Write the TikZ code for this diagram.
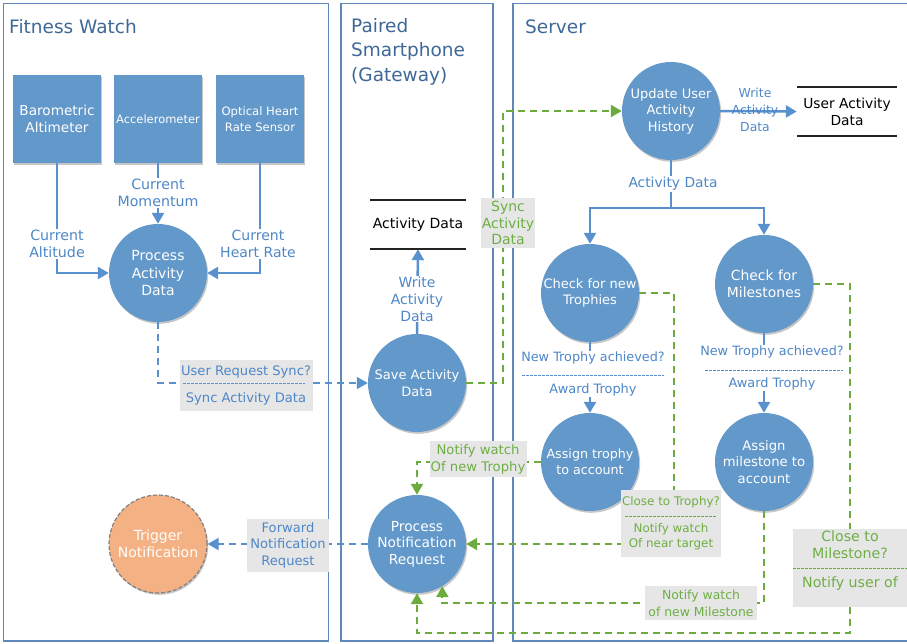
\documentclass[tikz,border=0pt]{standalone}
\usepackage{fontspec}
\setmainfont{DejaVu Sans}
\usetikzlibrary{arrows.meta,shadows,calc}

\definecolor{lane}{RGB}{95,135,185}
\definecolor{ttl}{RGB}{62,104,150}
\definecolor{cfill}{RGB}{98,152,202}
\definecolor{bl}{RGB}{88,145,205}
\definecolor{bltext}{RGB}{78,135,200}
\definecolor{gr}{RGB}{108,172,62}
\definecolor{grtext}{RGB}{110,175,68}
\definecolor{gbox}{RGB}{230,230,230}
\definecolor{orng}{RGB}{244,177,131}
\definecolor{storeline}{RGB}{35,35,35}

\tikzset{
  shd/.style={drop shadow={shadow xshift=1.2pt, shadow yshift=-1.8pt, opacity=0.22, fill=black}},
  proc/.style={circle, fill=cfill, minimum size=98pt, inner sep=0pt, text=white,
    align=center, font=\fontsize{13}{16.5}\selectfont, shd},
  sensor/.style={rectangle, fill=cfill, minimum width=88pt, minimum height=88pt,
    inner sep=1pt, text=white, align=center, shd},
  lanebox/.style={draw=lane, line width=1.2pt},
  ttlfont/.style={text=ttl, font=\fontsize{18.5}{24.5}\selectfont, align=left, inner sep=0pt},
  tip/.style={-{Triangle[length=11pt,width=12pt]}},
  blline/.style={draw=bl, line width=2.5pt},
  blarrow/.style={blline, tip},
  bldash/.style={draw=bl, line width=1.8pt, dash pattern=on 7pt off 5pt, tip},
  grdash/.style={draw=gr, line width=2.2pt, dash pattern=on 7pt off 5pt, tip},
  blsep/.style={draw=bl, line width=0.8pt, dash pattern=on 2.5pt off 1.5pt},
  grsep/.style={draw=gr, line width=0.8pt, dash pattern=on 2.5pt off 1.5pt},
  bllbl/.style={text=bltext, align=center, font=\fontsize{14}{16.8}\selectfont, fill=white, inner sep=1pt},
  blbox/.style={fill=gbox, text=bltext, align=center, font=\fontsize{13.1}{16.5}\selectfont, inner sep=1pt},
  grbox/.style={fill=gbox, text=grtext, align=center, font=\fontsize{13.2}{17}\selectfont, inner sep=1pt},
  store/.style={minimum height=49pt, inner sep=0pt, align=center, text=black},
  storeedge/.style={draw=storeline, line width=1.6pt},
}

\begin{document}
\begin{tikzpicture}[x=1pt,y=-1pt]
\useasboundingbox (0,0) rectangle (907,643);

% swim lanes
\draw[lanebox] (3.5,3.5) rectangle (328.5,641);
\draw[lanebox] (341,3.5) rectangle (493,641);
\draw[lanebox] (907,3.5) -- (513,3.5) -- (513,641) -- (907,641);

\node[ttlfont, anchor=base west] (tw) at (9,33) {Fitness Watch};
\node[ttlfont, anchor=north west] (tp) at (351,18) {Paired\\Smartphone\\(Gateway)};
\node[ttlfont, anchor=base west] (ts) at (525,33) {Server};

% sensors
\node[sensor, font=\fontsize{13.6}{17}\selectfont] (baro) at (57,119) {Barometric\\Altimeter};
\node[sensor, font=\fontsize{11.5}{13}\selectfont] (acc) at (158,119) {Accelerometer};
\node[sensor, font=\fontsize{11.6}{16}\selectfont] (ohr) at (260,119) {Optical Heart\\Rate Sensor};

% processes
\node[proc, font=\fontsize{14}{17.5}\selectfont] (pad) at (158,273) {Process\\Activity\\Data};
\node[proc] (save) at (417,383) {Save Activity\\Data};
\node[proc, font=\fontsize{13.8}{16.5}\selectfont] (pnr) at (417,544) {Process\\Notification\\Request};
\node[proc, fill=orng, draw=black!50, line width=1.2pt, dash pattern=on 4pt off 2pt,
      font=\fontsize{14}{16.5}\selectfont] (trig) at (158,544) {Trigger\\Notification};
\node[proc] (update) at (671,111) {Update User\\Activity\\History};
\node[proc] (trophy) at (590,293) {Check for new\\Trophies};
\node[proc, font=\fontsize{13.9}{17}\selectfont] (mile) at (764,284) {Check for\\Milestones};
\node[proc, font=\fontsize{12.7}{16.5}\selectfont] (assignT) at (590,462) {Assign trophy\\to account};
\node[proc, font=\fontsize{13.2}{16.5}\selectfont] (assignM) at (764,462) {Assign\\milestone to\\account};

% data stores
\node[store, minimum width=96pt, font=\fontsize{14}{17}\selectfont] (ads) at (418,224.5) {Activity Data};
\draw[storeedge] (ads.north west) -- (ads.north east);
\draw[storeedge] (ads.south west) -- (ads.south east);
\node[store, minimum width=100pt, font=\fontsize{13.8}{17}\selectfont] (uad) at (847,111.5) {User Activity\\Data};
\draw[storeedge] (uad.north west) -- (uad.north east);
\draw[storeedge] (uad.south west) -- (uad.south east);

% watch connectors
\draw[blarrow] (baro.south) |- (pad.west);
\draw[blarrow] (acc.south) -- (pad.north);
\draw[blarrow] (ohr.south) |- (pad.east);
\node[bllbl, font=\fontsize{14.2}{16.8}\selectfont] (l1) at (57,244) {Current\\Altitude};
\node[bllbl, font=\fontsize{14.2}{16.8}\selectfont] (l2) at (158,193) {Current\\Momentum};
\node[bllbl] (l3) at (258,244) {Current\\Heart Rate};

% sync request
\draw[bldash] (pad.south) |- (save.west);
\node[blbox, minimum width=133pt, minimum height=51pt, font=\fontsize{13.1}{15}\selectfont] (urs) at (246,385) {User Request Sync?\\[12pt]Sync Activity Data};
\draw[blsep] (183,383) -- (305,383);

% write activity data (phone)
\draw[blarrow] (save.north) -- (ads.south);
\node[bllbl] (l4) at (417,299) {Write\\Activity\\Data};

% sync to server
\draw[grdash] (save.east) -- ++(37,0) |- (update.west);
\node[grbox, minimum width=54pt, minimum height=50pt, inner sep=0.5pt, font=\fontsize{14}{16.5}\selectfont] (sad) at (508,223) {Sync\\Activity\\Data};

% write user activity data
\draw[blarrow] (update.east) -- (uad.west);
\node[bllbl, fill=none, font=\fontsize{12.4}{17}\selectfont] (l5) at (755,110) {Write\\Activity\\Data};

% branch
\coordinate (br) at (671,208);
\draw[blline] (update.south) -- (br);
\draw[blarrow] (br) -| (trophy.north);
\draw[blarrow] (br) -| (mile.north);
\node[bllbl, font=\fontsize{13.8}{16.5}\selectfont] (l6) at (673,184) {Activity Data};

% award trophy
\draw[blarrow] (trophy.south) -- (assignT.north);
\node[bllbl, font=\fontsize{12.8}{15.5}\selectfont] (l7) at (593,374) {New Trophy achieved?\\[16pt]{\fontsize{12.9}{14}\selectfont Award Trophy}};
\draw[blsep] (522,375) -- (664,375);
\draw[blarrow] (mile.south) -- (assignM.north);
\node[bllbl, font=\fontsize{12.8}{15.5}\selectfont] (l8) at (772,368) {New Trophy achieved?\\[16pt]{\fontsize{12.9}{14}\selectfont Award Trophy}};
\draw[blsep] (705,370) -- (843,370);

% notifications
\draw[grdash] (trophy.east) -- ++(35,0) |- (pnr.east);
\node[grbox, minimum width=97pt, minimum height=67pt, font=\fontsize{11.9}{15}\selectfont] (ctt) at (671,523) {Close to Trophy?\\[12pt]Notify watch\\Of near target};
\draw[grsep] (625,516) -- (717,516);

\draw[grdash] (assignT.west) -| (pnr.north);
\node[grbox, minimum width=97pt, minimum height=36pt] (nwt) at (478,459) {Notify watch\\Of new Trophy};

\draw[grdash] (assignM.south) -- ++(0,92) -| (pnr.-59);
\node[grbox, minimum width=112pt, minimum height=34pt, font=\fontsize{12.4}{17}\selectfont] (nwm) at (701,603) {Notify watch\\of new Milestone};

\draw[grdash] (mile.east) -- ++(37,0) -- ++(0,349) -| (pnr.south);
\node[grbox, minimum width=114pt, minimum height=78pt] (ctm) at (850,568) {};
\node[text=grtext, align=center, font=\fontsize{14.2}{17}\selectfont, inner sep=0pt] (ctmt) at (850,561) {Close to\\Milestone?\\[12pt]Notify user of};
\draw[grsep] (793,568) -- (907,568);

% forward to watch
\draw[bldash] (pnr.west) -- (trig.east);
\node[blbox, minimum width=82pt, minimum height=53pt] (fnr) at (288,545) {Forward\\Notification\\Request};

\end{tikzpicture}
\end{document}
